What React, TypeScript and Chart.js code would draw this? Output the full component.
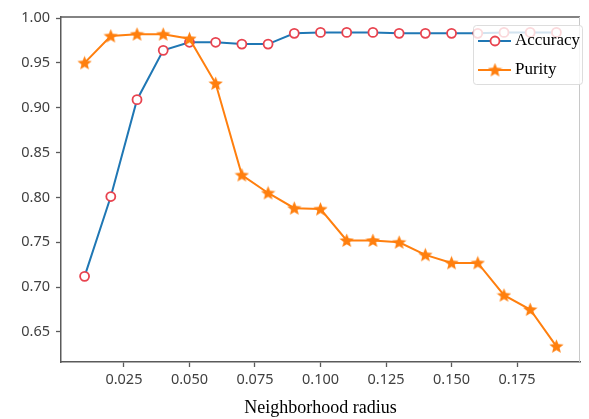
import React, { useEffect, useRef } from "react";
import { Chart, registerables } from "chart.js";

Chart.register(...registerables);

const radius = [0.01, 0.02, 0.03, 0.04, 0.05, 0.06, 0.07, 0.08, 0.09, 0.1, 0.11, 0.12, 0.13, 0.14, 0.15, 0.16, 0.17, 0.18, 0.19];
const accuracy = [0.712, 0.801, 0.909, 0.964, 0.973, 0.973, 0.971, 0.971, 0.983, 0.984, 0.984, 0.984, 0.983, 0.983, 0.983, 0.983, 0.984, 0.984, 0.984];
const purity = [0.950, 0.980, 0.982, 0.982, 0.977, 0.927, 0.825, 0.805, 0.788, 0.787, 0.752, 0.752, 0.750, 0.736, 0.727, 0.727, 0.691, 0.675, 0.634];
const xTicks = [0.025, 0.05, 0.075, 0.1, 0.125, 0.15, 0.175];
const yTicks = [0.65, 0.7, 0.75, 0.8, 0.85, 0.9, 0.95, 1.0];
const seriesNames = ["Accuracy", "Purity"];
const xTitle = "Neighborhood radius";

const BLUE = "#1f77b4";
const ORANGE = "#ff7f0e";
const RED = "#e8434f";
const AXIS = "#5a5a5a";
const TICKTXT = "#404040";

function makeStar(size: number, color: string): HTMLCanvasElement {
  const c = document.createElement("canvas");
  c.width = size;
  c.height = size;
  const g = c.getContext("2d")!;
  const R = size / 2;
  const r = R * 0.44;
  g.beginPath();
  for (let i = 0; i < 10; i++) {
    const ang = -Math.PI / 2 + (i * Math.PI) / 5;
    const rad = i % 2 ? r : R;
    g.lineTo(R + rad * Math.cos(ang), R + 0.5 + rad * Math.sin(ang));
  }
  g.closePath();
  g.fillStyle = color;
  g.fill();
  return c;
}

export default function App() {
  const ref = useRef<HTMLCanvasElement>(null);

  useEffect(() => {
    const star = makeStar(15, ORANGE);

    const framePlugin = {
      id: "frame",
      afterDatasetsDraw(chart: any) {
        const { ctx, chartArea: a } = chart;
        ctx.save();
        ctx.lineWidth = 1.5;
        ctx.strokeStyle = AXIS;
        ctx.beginPath();
        ctx.moveTo(a.left, a.top);
        ctx.lineTo(a.right, a.top);
        ctx.stroke();
        ctx.strokeStyle = "#c8c8c8";
        ctx.lineWidth = 1;
        ctx.beginPath();
        ctx.moveTo(a.right - 0.5, a.top);
        ctx.lineTo(a.right - 0.5, a.bottom);
        ctx.stroke();
        ctx.restore();
      },
    };

    const legendPlugin = {
      id: "customLegend",
      afterDraw(chart: any) {
        const { ctx } = chart;
        const x = 473, y = 25, w = 109, h = 59;
        ctx.save();
        ctx.globalAlpha = 0.8;
        ctx.fillStyle = "#ffffff";
        ctx.strokeStyle = "#d4d4d4";
        ctx.lineWidth = 1;
        ctx.beginPath();
        ctx.roundRect(x + 0.5, y + 0.5, w, h, 3);
        ctx.fill();
        ctx.stroke();
        ctx.globalAlpha = 1;
        // row 1
        const y1 = 41, y2 = 70;
        ctx.strokeStyle = BLUE;
        ctx.lineWidth = 2;
        ctx.beginPath();
        ctx.moveTo(478, y1);
        ctx.lineTo(511, y1);
        ctx.stroke();
        ctx.beginPath();
        ctx.arc(495, y1, 4.5, 0, Math.PI * 2);
        ctx.fillStyle = "#fff";
        ctx.fill();
        ctx.strokeStyle = RED;
        ctx.lineWidth = 1.8;
        ctx.stroke();
        // row 2
        ctx.strokeStyle = ORANGE;
        ctx.lineWidth = 2;
        ctx.beginPath();
        ctx.moveTo(478, y2);
        ctx.lineTo(511, y2);
        ctx.stroke();
        ctx.drawImage(star, 495 - star.width / 2, y2 - star.height / 2);
        ctx.fillStyle = "#000";
        ctx.font = "17px 'Liberation Serif'";
        ctx.textBaseline = "middle";
        ctx.textAlign = "left";
        ctx.fillText(seriesNames[0], 515, y1);
        ctx.fillText(seriesNames[1], 515, y2);
        ctx.restore();
      },
    };

    const chart = new Chart(ref.current!, {
      type: "line",
      data: {
        datasets: [
          {
            label: seriesNames[0],
            data: radius.map((x, i) => ({ x, y: accuracy[i] })),
            borderColor: BLUE,
            borderWidth: 2,
            pointStyle: "circle",
            pointRadius: 4.5,
            pointBorderWidth: 1.8,
            pointBorderColor: RED,
            pointBackgroundColor: "#ffffff",
            tension: 0,
            order: 2,
          },
          {
            label: seriesNames[1],
            data: radius.map((x, i) => ({ x, y: purity[i] })),
            borderColor: ORANGE,
            borderWidth: 2,
            pointStyle: star as any,
            pointRadius: 7,
            backgroundColor: ORANGE,
            pointBackgroundColor: ORANGE,
            tension: 0,
            order: 1,
          },
        ],
      },
      options: {
        responsive: false,
        devicePixelRatio: 1,
        animation: false,
        events: [],
        layout: { padding: { top: 17, right: 1, left: 0, bottom: 0 } },
        plugins: {
          legend: { display: false },
          tooltip: { enabled: false },
        },
        scales: {
          x: {
            type: "linear",
            min: 0.001,
            max: 0.199,
            afterBuildTicks: (s: any) => {
              s.ticks = xTicks.map((v) => ({ value: v }));
            },
            afterFit: (s: any) => {
              s.height = 57;
            },
            grid: {
              drawOnChartArea: false,
              drawTicks: true,
              tickLength: 5,
              tickWidth: 1.3,
              tickColor: AXIS,
            },
            border: { display: true, color: AXIS, width: 1.5 },
            ticks: {
              autoSkip: false,
              maxRotation: 0,
              padding: 4,
              color: TICKTXT,
              font: { family: "'Noto Sans'", size: 14.5 },
              callback: (v: any) => Number(v).toFixed(3),
            },
            title: {
              display: true,
              text: xTitle,
              color: "#000",
              font: { family: "'Liberation Serif'", size: 18 },
              padding: { top: 0, bottom: 0 },
            },
          },
          y: {
            type: "linear",
            min: 0.6165,
            max: 1.0012,
            afterBuildTicks: (s: any) => {
              s.ticks = yTicks.map((v) => ({ value: v }));
            },
            afterFit: (s: any) => {
              s.width = 61;
            },
            grid: {
              drawOnChartArea: false,
              drawTicks: true,
              tickLength: 5,
              tickWidth: 1.3,
              tickColor: AXIS,
            },
            border: { display: true, color: AXIS, width: 1.5 },
            ticks: {
              padding: 6,
              color: TICKTXT,
              font: { family: "'Noto Sans'", size: 14.5 },
              callback: (v: any) => Number(v).toFixed(2),
            },
          },
        },
      },
      plugins: [framePlugin, legendPlugin],
    } as any);

    return () => chart.destroy();
  }, []);

  return (
    <div style={{ position: "fixed", left: 0, top: 0, width: 589, height: 419, background: "#fff" }}>
      <canvas ref={ref} width={589} height={419} style={{ display: "block", width: 589, height: 419 }} />
    </div>
  );
}
